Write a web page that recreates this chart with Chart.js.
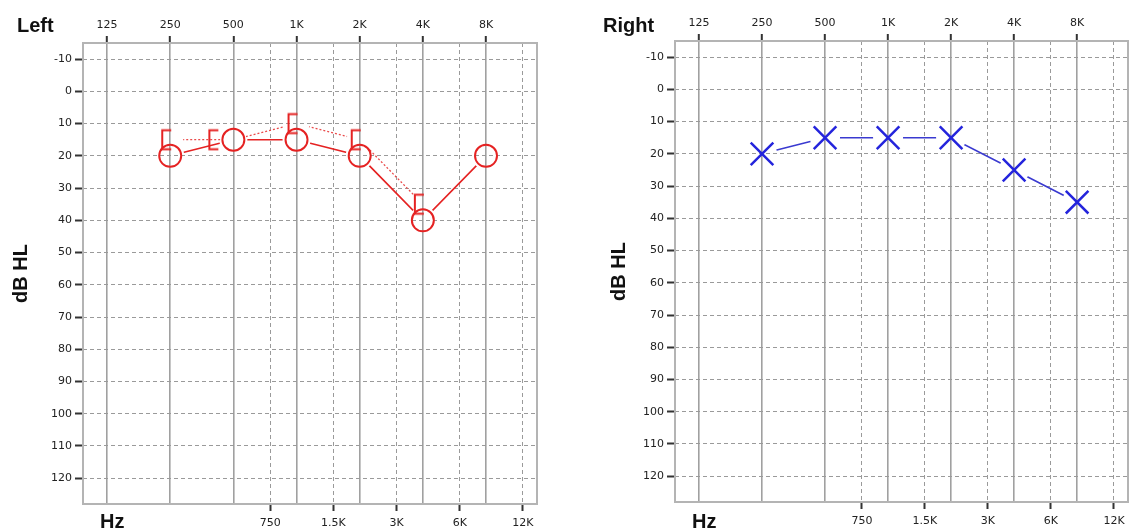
<!DOCTYPE html>
<html>
<head>
<meta charset="utf-8">
<script src="https://cdn.jsdelivr.net/npm/chart.js@4.4.1/dist/chart.umd.min.js"></script>
<style>
  html, body { margin: 0; padding: 0; background: #fff; width: 1131px; height: 531px; overflow: hidden; }
  .panel { position: absolute; top: 0; }
  #leftWrap  { left: 0;     width: 560px; height: 531px; }
  #rightWrap { left: 590px; width: 561px; height: 531px; }
</style>
</head>
<body>
<div id="leftWrap" class="panel"><canvas id="leftChart" width="560" height="531"></canvas></div>
<div id="rightWrap" class="panel"><canvas id="rightChart" width="561" height="531"></canvas></div>
<script>
// ─── data ────────────────────────────────────────────
const freqs     = [250, 500, 1000, 2000, 4000, 8000];
const leftAir   = [20, 15, 15, 20, 40, 20];     // O, solid
const leftBone  = [15, 15, 10, 15, 35, null];   // [, dotted
const rightAir  = [20, 15, 15, 15, 25, 35];     // X, solid

const octaveTicks  = [125, 250, 500, 1000, 2000, 4000, 8000];
const octaveLabels = ['125', '250', '500', '1K', '2K', '4K', '8K'];
const midTicks     = [750, 1500, 3000, 6000, 12000];
const midLabels    = ['750', '1.5K', '3K', '6K', '12K'];
const dbTicks      = [-10, 0, 10, 20, 30, 40, 50, 60, 70, 80, 90, 100, 110, 120];

const RED = '#e52222';
const BLUE = '#2424dc';
const tickFont = { family: 'DejaVu Sans', size: 11 };

const toPoints = (vals) => freqs.map((f, i) => ({ x: f, y: vals[i] })).filter(p => p.y != null);

// bracket marker, spine sits `shift` px left of the point
function bracket(shift) {
  const w = shift * 2 + 8, h = 24;
  const c = document.createElement('canvas');
  c.width = w; c.height = h;
  const g = c.getContext('2d');
  const sx = w / 2 - shift;
  g.strokeStyle = RED;
  g.lineWidth = 2;
  g.beginPath();
  g.moveTo(sx + 9, 2.5); g.lineTo(sx, 2.5); g.lineTo(sx, 21.5); g.lineTo(sx + 9, 21.5);
  g.stroke();
  return c;
}
const bracketNear = bracket(8);
const bracketFar = bracket(24);

// lines stop short of the markers
const gapPlugin = {
  id: 'gaps',
  beforeDatasetDraw(chart, args) {
    const ds = chart.data.datasets[args.index];
    if (!ds.gap) return;
    const a = chart.chartArea, ctx = chart.ctx;
    ctx.save();
    ctx.beginPath();
    ctx.rect(a.left, a.top, a.right - a.left, a.bottom - a.top);
    args.meta.data.forEach(p => {
      ctx.moveTo(p.x + ds.gap, p.y);
      ctx.arc(p.x, p.y, ds.gap, 0, Math.PI * 2);
    });
    ctx.clip('evenodd');
  },
  afterDatasetDraw(chart, args) {
    if (chart.data.datasets[args.index].gap) chart.ctx.restore();
  }
};

// frame + corner texts
const framePlugin = {
  id: 'frame',
  beforeDatasetsDraw(chart) {
    const a = chart.chartArea, ctx = chart.ctx;
    ctx.save();
    ctx.strokeStyle = '#b4b4b4';
    ctx.lineWidth = 2;
    ctx.strokeRect(a.left, a.top, a.right - a.left, a.bottom - a.top);
    ctx.restore();
  },
  afterDraw(chart, args, opts) {
    const a = chart.chartArea, ctx = chart.ctx;
    ctx.save();
    ctx.fillStyle = '#111';
    ctx.font = 'bold 20px "Liberation Sans", Arial, sans-serif';
    ctx.textBaseline = 'alphabetic';
    ctx.fillText(opts.corner, opts.cornerX, 32);
    ctx.fillText('Hz', a.left + 17, 528);
    ctx.restore();
  }
};

function scales({ yWidth, topH, bottomH, titlePad }) {
  return {
    xTop: {
      type: 'logarithmic', position: 'top', min: 96, max: 14000,
      afterBuildTicks: s => { s.ticks = octaveTicks.map(v => ({ value: v })); },
      afterFit: s => { s.height = topH; },
      ticks: { autoSkip: false, maxRotation: 0, color: '#222', font: tickFont, padding: 4,
               callback: (v, i) => octaveLabels[i] },
      grid: { color: '#a0a0a0', lineWidth: 1.6, tickColor: '#333', tickLength: 7, tickWidth: 2 },
      border: { display: false }
    },
    xBottom: {
      type: 'logarithmic', position: 'bottom', min: 96, max: 14000,
      afterBuildTicks: s => { s.ticks = midTicks.map(v => ({ value: v })); },
      afterFit: s => { s.height = bottomH; },
      ticks: { autoSkip: false, maxRotation: 0, color: '#222', font: tickFont, padding: 6,
               callback: (v, i) => midLabels[i] },
      grid: { color: '#9a9a9a', lineWidth: 1, tickColor: '#333', tickLength: 7, tickWidth: 2 },
      border: { display: false, dash: [4, 3] }
    },
    y: {
      type: 'linear', reverse: true, min: -15, max: 128,
      afterBuildTicks: s => { s.ticks = dbTicks.map(v => ({ value: v })); },
      afterFit: s => { s.width = yWidth; },
      ticks: { color: '#222', font: tickFont, padding: 3, callback: v => String(v) },
      grid: { color: '#9a9a9a', lineWidth: 1, tickColor: '#333', tickLength: 8, tickWidth: 2 },
      border: { display: false, dash: [4, 3] },
      title: { display: true, text: 'dB HL', color: '#111',
               font: { family: 'Liberation Sans', size: 20, weight: 'bold' },
               padding: { top: titlePad, bottom: 0 } }
    }
  };
}

function baseOptions(scaleOpts, padRight, corner, cornerX) {
  return {
    responsive: false,
    animation: false,
    events: [],
    layout: { padding: { left: 0, top: 0, right: padRight, bottom: 0 } },
    plugins: {
      legend: { display: false },
      tooltip: { enabled: false },
      frame: { corner, cornerX }
    },
    scales: scales(scaleOpts)
  };
}

// ─── left ear ────────────────────────────────────────
new Chart(document.getElementById('leftChart'), {
  type: 'line',
  data: {
    datasets: [
      { data: toPoints(leftAir), xAxisID: 'xTop', yAxisID: 'y', order: 3, gap: 14,
        borderColor: RED, borderWidth: 1.6, pointRadius: 0, fill: false, tension: 0 },
      { data: toPoints(leftBone), xAxisID: 'xTop', yAxisID: 'y', order: 4, gap: 13,
        borderColor: '#ea4a4a', borderWidth: 1.3, borderDash: [2, 2], pointRadius: 0, fill: false, tension: 0 },
      { data: toPoints(leftAir), xAxisID: 'xTop', yAxisID: 'y', order: 1, showLine: false,
        pointStyle: 'circle', pointRadius: 11, pointBorderWidth: 2,
        pointBorderColor: RED, pointBackgroundColor: 'rgba(0,0,0,0)' },
      { data: toPoints(leftBone), xAxisID: 'xTop', yAxisID: 'y', order: 2, showLine: false,
        pointStyle: (ctx) => {
          const i = freqs.indexOf(ctx.raw ? ctx.raw.x : -1);
          return (i >= 0 && leftAir[i] === leftBone[i]) ? bracketFar : bracketNear;
        },
        pointRadius: 10 }
    ]
  },
  options: baseOptions({ yWidth: 83, topH: 43, bottomH: 27, titlePad: 9 }, 23, 'Left', 17),
  plugins: [gapPlugin, framePlugin]
});

// ─── right ear ───────────────────────────────────────
new Chart(document.getElementById('rightChart'), {
  type: 'line',
  data: {
    datasets: [
      { data: toPoints(rightAir), xAxisID: 'xTop', yAxisID: 'y', order: 2, gap: 15,
        borderColor: '#3a3ad0', borderWidth: 1.6, pointRadius: 0, fill: false, tension: 0 },
      { data: toPoints(rightAir), xAxisID: 'xTop', yAxisID: 'y', order: 1, showLine: false,
        pointStyle: 'crossRot', pointRadius: 16, pointBorderWidth: 2.5,
        pointBorderColor: BLUE, pointBackgroundColor: BLUE }
    ]
  },
  options: baseOptions({ yWidth: 85, topH: 41, bottomH: 29, titlePad: 17 }, 23, 'Right', 13),
  plugins: [gapPlugin, framePlugin]
});
</script>
</body>
</html>
